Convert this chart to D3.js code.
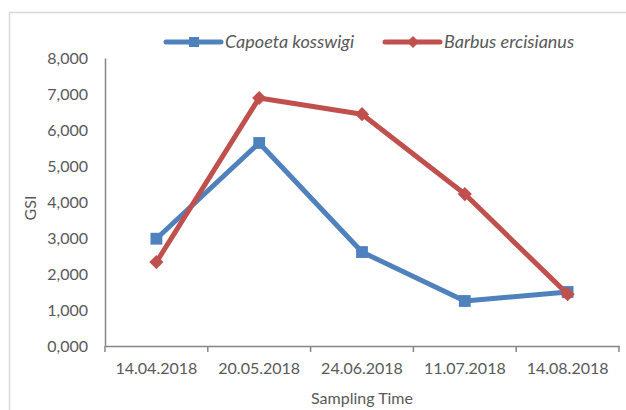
<!DOCTYPE html>
<html>
<head>
<meta charset="utf-8">
<script src="https://cdn.jsdelivr.net/npm/d3@7"></script>
<style>
  body { margin: 0; background: #fff; }
  svg text { font-family: Lato, "Open Sans", sans-serif; }
</style>
</head>
<body>
<script>
// sampling dates and GSI values
var dates = ["14.04.2018", "20.05.2018", "24.06.2018", "11.07.2018", "14.08.2018"];
var capoeta = [2.98, 5.64, 2.61, 1.25, 1.50];
var barbus = [2.33, 6.89, 6.44, 4.22, 1.44];
var yTicks = [0, 1, 2, 3, 4, 5, 6, 7, 8];

var w = 626, h = 410;
var blue = "#4f81bd", red = "#c0504d";
var axisColor = "#868686", textColor = "#595959";

var svg = d3.select("body").append("svg")
    .attr("width", w)
    .attr("height", h);

// chart frame (runs off the right and bottom of the picture)
svg.append("rect")
    .attr("x", 9.5).attr("y", 12.5)
    .attr("width", 700).attr("height", 500)
    .attr("fill", "#fff")
    .attr("stroke", "#d9d9d9")
    .attr("stroke-width", 1.5);

var x = d3.scaleBand().domain(dates).range([105, 619]);
var y = d3.scaleLinear().domain([0, 8]).range([346, 58]);

var fmt = d3.formatLocale({decimal: ",", thousands: ".", grouping: [3], currency: ["", ""]}).format(".3f");

// y axis
var yAxis = svg.append("g")
    .attr("transform", "translate(105,0)")
    .call(d3.axisLeft(y).tickValues(yTicks).tickFormat(fmt).tickSize(0).tickPadding(17));
yAxis.select(".domain").attr("stroke", axisColor).attr("stroke-width", 1.5);
yAxis.selectAll("text").attr("fill", textColor).attr("font-size", 16);

// x axis
var xAxis = svg.append("g")
    .attr("transform", "translate(0,346)")
    .call(d3.axisBottom(x).tickSize(0).tickPadding(17));
xAxis.select(".domain").attr("stroke", axisColor).attr("stroke-width", 1.5);
xAxis.selectAll("text").attr("fill", textColor).attr("font-size", 16);

// tick marks at the category boundaries
var bounds = dates.map(function(d) { return x(d); }).concat([x.range()[1]]);
xAxis.selectAll(".bound")
    .data(bounds)
    .enter()
    .append("line")
    .attr("class", "bound")
    .attr("x1", function(d) { return d; })
    .attr("x2", function(d) { return d; })
    .attr("y1", 0).attr("y2", 6)
    .attr("stroke", axisColor)
    .attr("stroke-width", 1.5);

// axis titles
svg.append("text")
    .attr("x", 362).attr("y", 404)
    .attr("text-anchor", "middle")
    .attr("fill", textColor)
    .attr("font-size", 16)
    .text("Sampling Time");

svg.append("text")
    .attr("transform", "translate(36,208) rotate(-90)")
    .attr("text-anchor", "middle")
    .attr("fill", textColor)
    .attr("font-size", 16)
    .text("GSI");

var line = d3.line()
    .x(function(d, i) { return x(dates[i]) + x.bandwidth() / 2; })
    .y(function(d) { return y(d); });

var square = d3.symbol().type(d3.symbolSquare).size(140);
var diamond = d3.symbol().type(d3.symbolSquare).size(100); // rotated 45deg below

var series = [
    {name: "Capoeta kosswigi", values: capoeta, color: blue, sym: square, rot: 0},
    {name: "Barbus ercisianus", values: barbus, color: red, sym: diamond, rot: 45}
];

series.forEach(function(s) {
    svg.append("path")
        .datum(s.values)
        .attr("d", line)
        .attr("fill", "none")
        .attr("stroke", s.color)
        .attr("stroke-width", 5)
        .attr("stroke-linejoin", "round");

    svg.selectAll(null)
        .data(s.values)
        .enter()
        .append("path")
        .attr("d", s.sym)
        .attr("transform", function(d, i) {
            return "translate(" + (x(dates[i]) + x.bandwidth() / 2) + "," + y(d) + ") rotate(" + s.rot + ")";
        })
        .attr("fill", s.color);
});

// legend
var legend = svg.append("g").attr("class", "legend");
var legendX = [166, 385];
series.forEach(function(s, i) {
    var g = legend.append("g").attr("transform", "translate(" + legendX[i] + ",42)");
    g.append("line")
        .attr("x1", 0).attr("x2", 55)
        .attr("stroke", s.color)
        .attr("stroke-width", 5)
        .attr("stroke-linecap", "round");
    g.append("path")
        .attr("d", s.sym)
        .attr("transform", "translate(28,0) scale(0.85) rotate(" + s.rot + ")")
        .attr("fill", s.color);
    g.append("text")
        .attr("x", 59).attr("y", 6)
        .attr("fill", textColor)
        .attr("font-size", 18)
        .attr("font-style", "italic")
        .text(s.name);
});
</script>
</body>
</html>
